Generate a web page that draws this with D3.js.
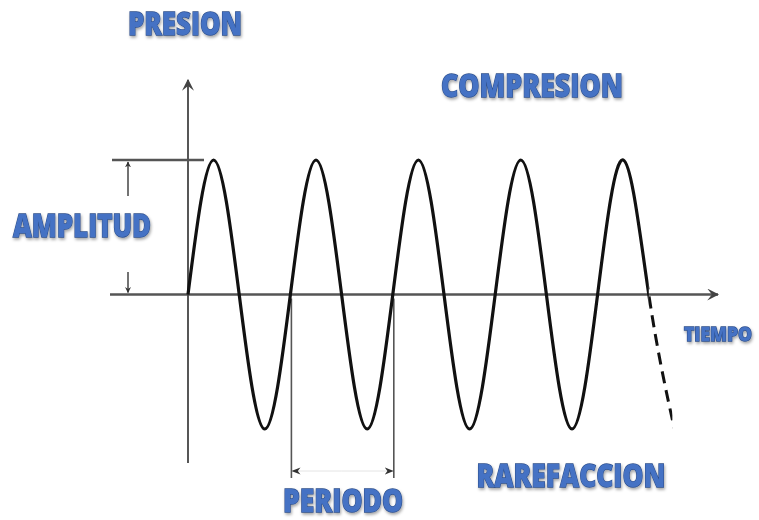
<!DOCTYPE html>
<html lang="es">
<head>
<meta charset="UTF-8">
<title>Onda de presión</title>
<script src="https://d3js.org/d3.v7.min.js"></script>
<style>
  body { margin: 0; background: #fff; }
  .lbl {
    font-family: "Open Sans", "DejaVu Sans", sans-serif;
    font-weight: 800;
    fill: #4472c4;
    stroke: #2e4f8c;
    stroke-width: 1.3px;
    paint-order: stroke;
  }
</style>
</head>
<body>
<svg id="chart" width="759" height="520"></svg>
<script>
// puntos clave de la onda (t en periodos, valor de presión normalizado)
const waveT = [0, 0.25, 0.5, 0.75, 1, 1.25, 1.5, 1.75, 2, 2.25, 2.5, 2.75, 3, 3.25, 3.5, 3.75, 4, 4.25, 4.5, 4.75];
const waveV = [0, 1, 0, -1, 0, 1, 0, -1, 0, 1, 0, -1, 0, 1, 0, -1, 0, 1, 0, -1];
const solidEnd = 4.5;      // donde empieza el tramo punteado
const dashEnd = 4.73;      // fin del tramo punteado
const periodMarks = [1, 2]; // líneas del periodo
const amplitude = 1;

// etiquetas: texto, centro x, base y, ancho, tamaño
const labels = [
  { text: "PRESION",     x: 185, y: 35,  w: 114, size: 32 },
  { text: "COMPRESION",  x: 532, y: 97,  w: 182, size: 32 },
  { text: "AMPLITUD",    x: 82,  y: 237, w: 138, size: 32 },
  { text: "TIEMPO",      x: 718, y: 341, w: 68,  size: 19 },
  { text: "PERIODO",     x: 343, y: 512, w: 120, size: 31 },
  { text: "RAREFACCION", x: 571, y: 487, w: 189, size: 32 }
];

const svg = d3.select("#chart");

const x = d3.scaleLinear().domain([0, 1]).range([188, 290.4]);
const y = d3.scaleLinear().domain([-1, 1]).range([429, 160]);

const defs = svg.append("defs");
defs.append("marker")
    .attr("id", "arr")
    .attr("viewBox", "0 0 10 10")
    .attr("refX", 9).attr("refY", 5)
    .attr("markerWidth", 6).attr("markerHeight", 6)
    .attr("markerUnits", "userSpaceOnUse")
    .attr("orient", "auto")
  .append("path").attr("d", "M0,0 L10,5 L0,10 L3,5 Z").attr("fill", "#333");
defs.append("marker")
    .attr("id", "arrP")
    .attr("viewBox", "0 0 10 10")
    .attr("refX", 9).attr("refY", 5)
    .attr("markerWidth", 9).attr("markerHeight", 9)
    .attr("markerUnits", "userSpaceOnUse")
    .attr("orient", "auto")
  .append("path").attr("d", "M0,1 L10,5 L0,9 L3,5 Z").attr("fill", "#333");
defs.append("marker")
    .attr("id", "arrBig")
    .attr("viewBox", "0 0 10 10")
    .attr("refX", 9).attr("refY", 5)
    .attr("markerWidth", 12).attr("markerHeight", 12)
    .attr("markerUnits", "userSpaceOnUse")
    .attr("orient", "auto")
  .append("path").attr("d", "M0,0 L10,5 L0,10 L4,5 Z").attr("fill", "#444");

const shadow = defs.append("filter").attr("id", "sh").attr("x", "-10%").attr("y", "-30%").attr("width", "120%").attr("height", "160%");
shadow.append("feDropShadow").attr("dx", 1).attr("dy", 2).attr("stdDeviation", 1.5).attr("flood-color", "#000").attr("flood-opacity", 0.35);

defs.append("clipPath").attr("id", "clipSolid")
  .append("rect").attr("x", 0).attr("y", 0).attr("width", x(solidEnd)).attr("height", 520);
defs.append("clipPath").attr("id", "clipDash")
  .append("rect").attr("x", x(solidEnd)).attr("y", 0).attr("width", x(dashEnd) - x(solidEnd)).attr("height", 520);

// ejes
svg.append("line")
    .attr("x1", 110).attr("x2", 718)
    .attr("y1", y(0)).attr("y2", y(0))
    .attr("stroke", "#555").attr("stroke-width", 2.5)
    .attr("marker-end", "url(#arrBig)");
svg.append("line")
    .attr("x1", x(0)).attr("x2", x(0))
    .attr("y1", 463).attr("y2", 80)
    .attr("stroke", "#444").attr("stroke-width", 1.8)
    .attr("marker-end", "url(#arrBig)");

// amplitud
svg.append("line")
    .attr("x1", 112).attr("x2", 204)
    .attr("y1", y(amplitude)).attr("y2", y(amplitude))
    .attr("stroke", "#555").attr("stroke-width", 2.5);
svg.append("line")
    .attr("x1", 128).attr("x2", 128)
    .attr("y1", 196).attr("y2", y(amplitude) + 2)
    .attr("stroke", "#444").attr("stroke-width", 1.5)
    .attr("marker-end", "url(#arr)");
svg.append("line")
    .attr("x1", 128).attr("x2", 128)
    .attr("y1", 272).attr("y2", y(0) - 2)
    .attr("stroke", "#444").attr("stroke-width", 1.5)
    .attr("marker-end", "url(#arr)");

// periodo
svg.selectAll(".pm")
  .data(periodMarks)
  .enter().append("line")
    .attr("class", "pm")
    .attr("x1", d => x(d) + 1).attr("x2", d => x(d) + 1)
    .attr("y1", y(0) + 4).attr("y2", 478)
    .attr("stroke", "#555").attr("stroke-width", 1.6);
svg.append("line")
    .attr("x1", x(1.5)).attr("x2", x(periodMarks[0]) + 2)
    .attr("y1", 471).attr("y2", 471)
    .attr("stroke", "#e4e4e4").attr("stroke-width", 1)
    .attr("marker-end", "url(#arrP)");
svg.append("line")
    .attr("x1", x(1.5)).attr("x2", x(periodMarks[1]))
    .attr("y1", 471).attr("y2", 471)
    .attr("stroke", "#e4e4e4").attr("stroke-width", 1)
    .attr("marker-end", "url(#arrP)");

// onda
const pts = waveT.map((t, i) => [t, waveV[i]]);
const line = d3.line()
    .x(d => x(d[0]))
    .y(d => y(d[1]))
    .curve(d3.curveNatural);

svg.append("path")
    .attr("d", line(pts))
    .attr("clip-path", "url(#clipSolid)")
    .attr("fill", "none")
    .attr("stroke", "#111")
    .attr("stroke-width", 3.2);
svg.append("path")
    .attr("d", line(pts))
    .attr("clip-path", "url(#clipDash)")
    .attr("fill", "none")
    .attr("stroke", "#111")
    .attr("stroke-width", 3)
    .attr("stroke-dasharray", "12,7")
    .attr("stroke-dashoffset", 0);

// fondo blanco detrás de AMPLITUD (tapa las flechas)
svg.append("rect")
    .attr("x", 0).attr("y", 200).attr("width", 165).attr("height", 62)
    .attr("fill", "#fff");

// etiquetas
svg.selectAll(".lbl")
  .data(labels)
  .enter().append("text")
    .attr("class", "lbl")
    .attr("x", d => d.x)
    .attr("y", d => d.y)
    .attr("text-anchor", "middle")
    .attr("textLength", d => d.w)
    .attr("lengthAdjust", "spacingAndGlyphs")
    .attr("filter", "url(#sh)")
    .style("font-size", d => d.size + "px")
    .text(d => d.text);
</script>
</body>
</html>
